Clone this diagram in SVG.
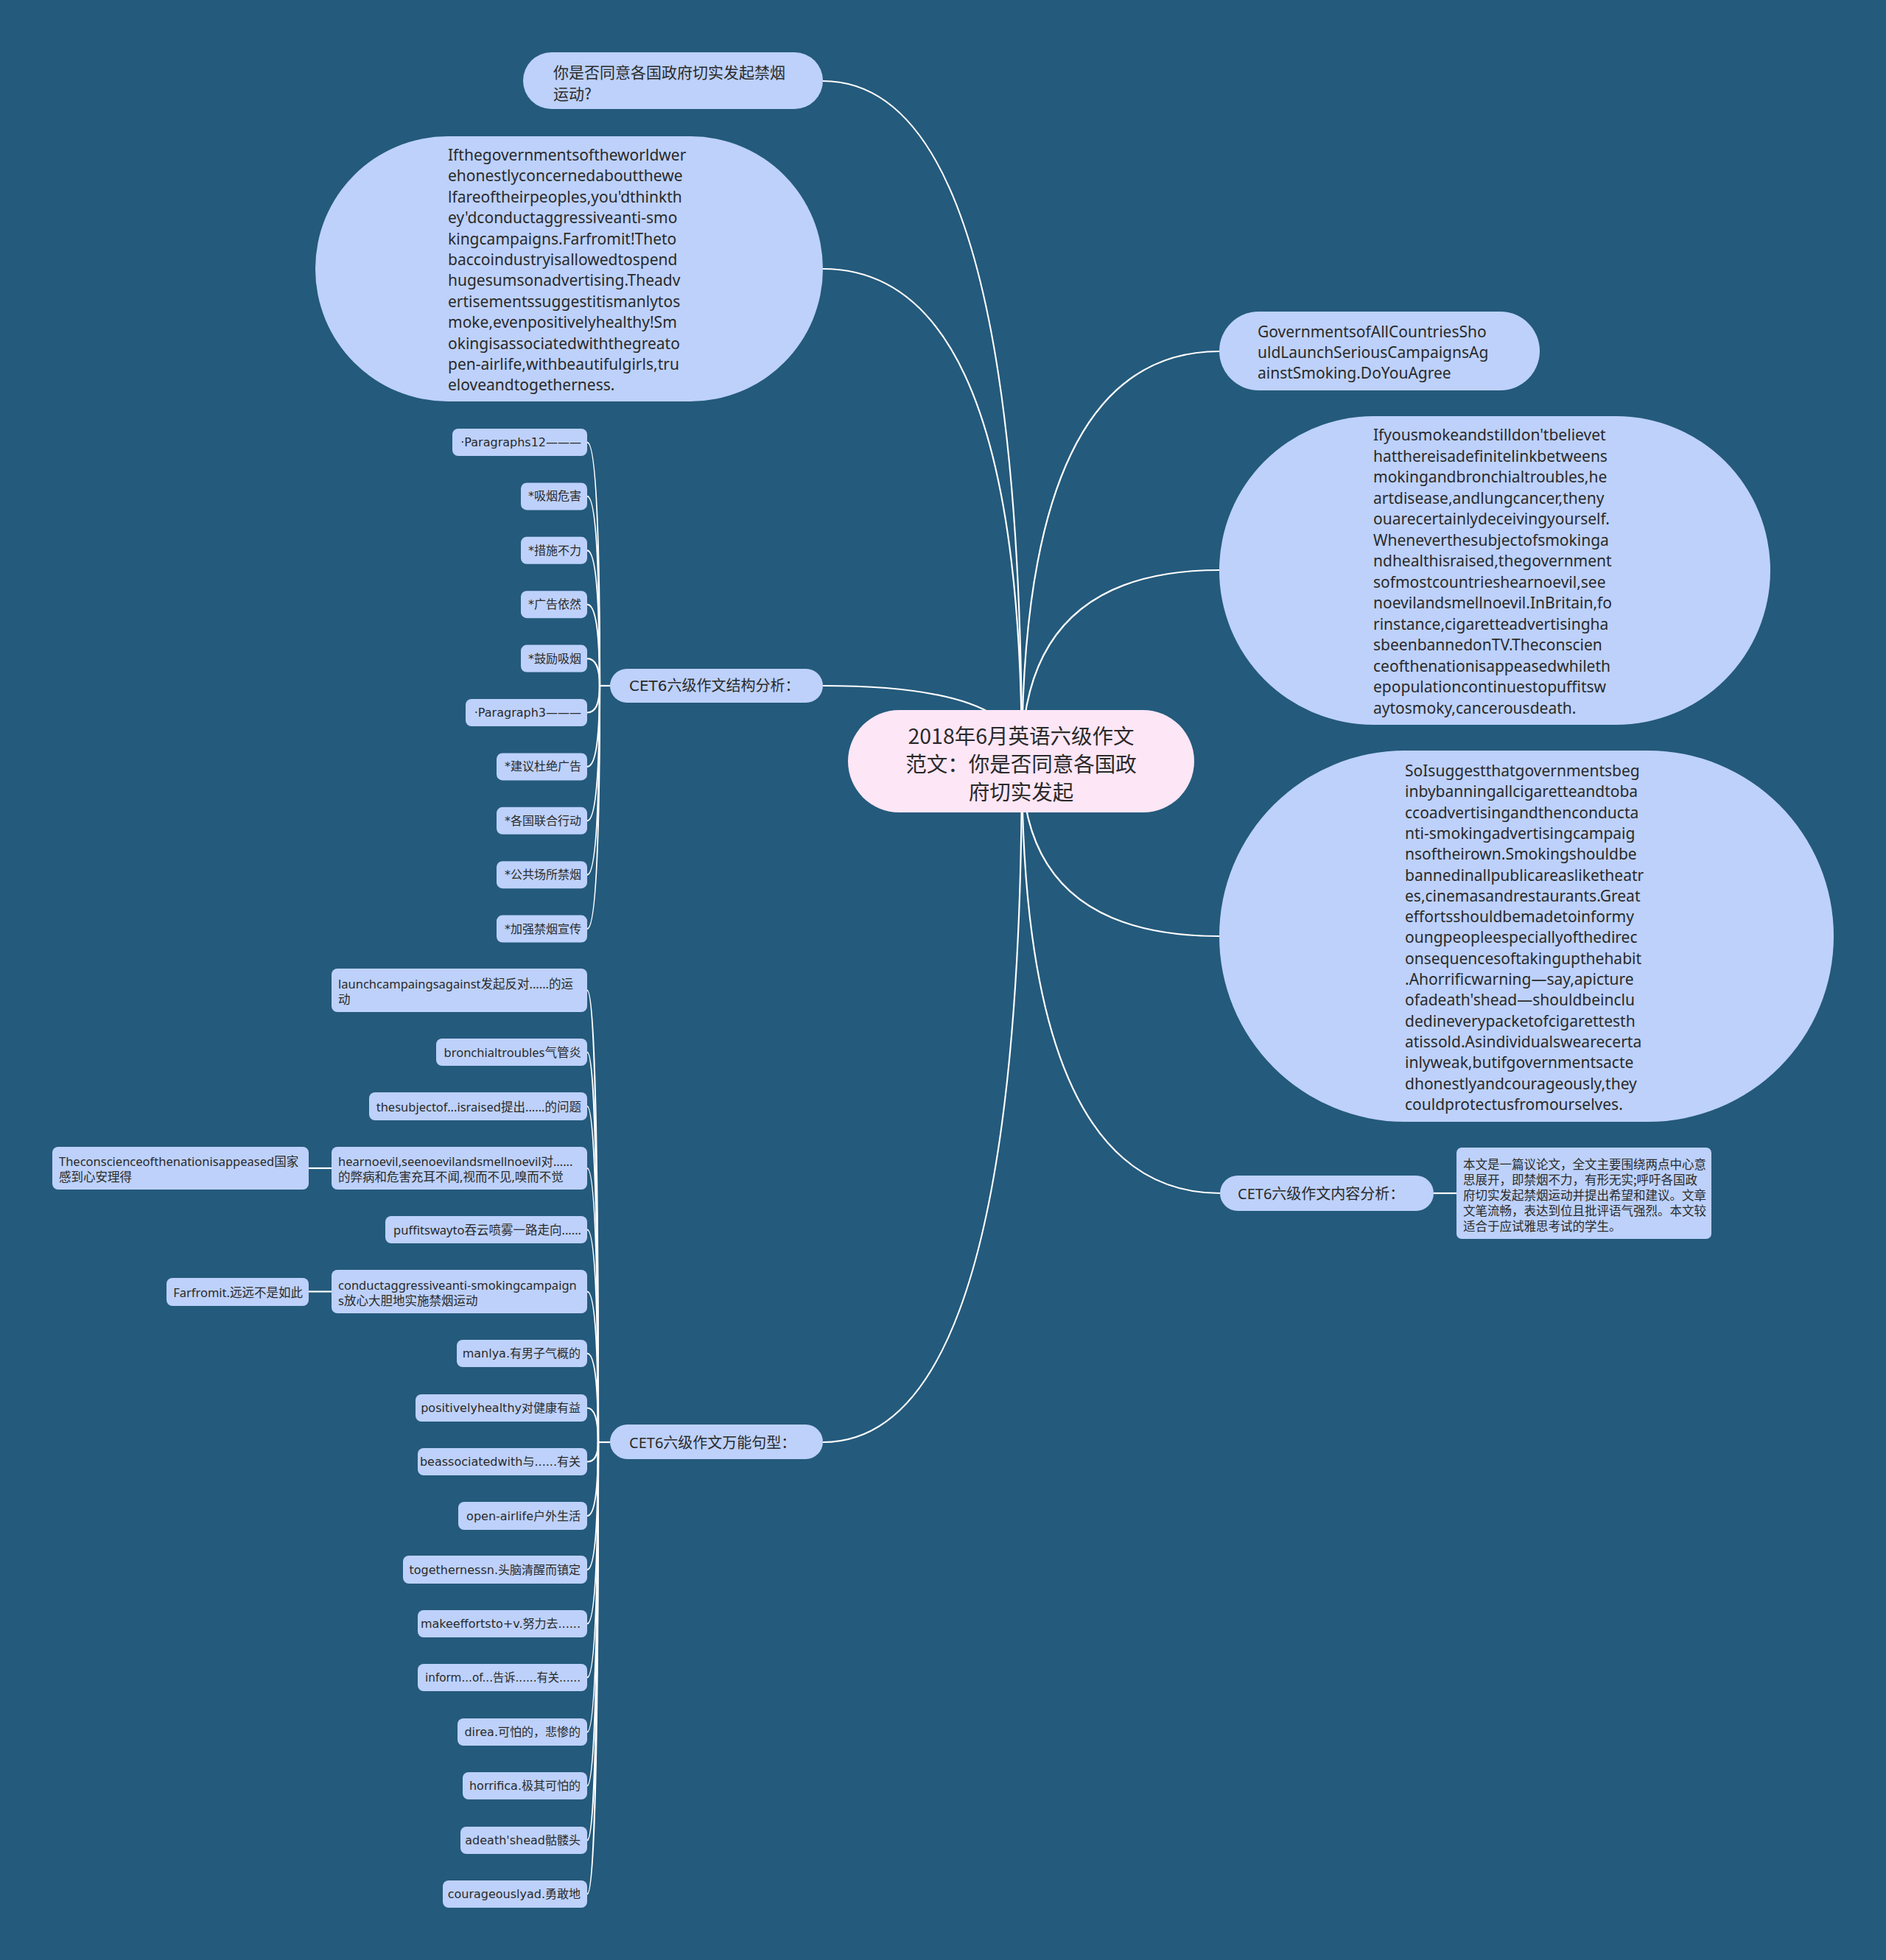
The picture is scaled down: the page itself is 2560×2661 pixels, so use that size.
<svg xmlns="http://www.w3.org/2000/svg" width="2560" height="2661" viewBox="0 0 2560 2661">
<style>
.bg{fill:#245a7c}
.n{fill:#bdd1fb}
.r{fill:#fde6f6}
.l{fill:none;stroke:#ffffff;stroke-width:2.2}
.t{font-family:"Noto Sans","Noto Sans CJK SC",sans-serif;fill:#2a2a2a;dominant-baseline:central}
.w{font-family:"DejaVu Sans","Noto Sans CJK SC",sans-serif;fill:#2a2a2a;dominant-baseline:central}
.c{font-family:"Noto Sans CJK SC",sans-serif;fill:#2a2a2a;dominant-baseline:central}
.f21{font-size:21px}
.f16{font-size:16px}
.f165{font-size:16.5px}
.f20{font-size:20px}
.e{text-anchor:end}
</style>
<rect class="bg" x="0" y="0" width="2560" height="2661"/>

<g id="connectors">
  <path class="l" d="M1117 110 Q1387 110 1387 1033"/>
  <path class="l" d="M1117 365 Q1387 365 1387 1033"/>
  <path class="l" d="M1117 931 Q1387 931 1387 1033"/>
  <path class="l" d="M1117 1958 Q1387 1958 1387 1033"/>
  <path class="l" d="M1655 477 Q1387 477 1387 1033"/>
  <path class="l" d="M1655 774 Q1387 774 1387 1033"/>
  <path class="l" d="M1655 1271 Q1387 1271 1387 1033"/>
  <path class="l" d="M1656 1620 Q1387 1620 1387 1033"/>
  <path class="l" d="M1946 1620 H1977"/>
  <path class="l" d="M828 931 H814"/>
  <path class="l" d="M797 600.5 Q814 600.5 814 931"/>
  <path class="l" d="M797 673.9 Q814 673.9 814 931"/>
  <path class="l" d="M797 747.3 Q814 747.3 814 931"/>
  <path class="l" d="M797 820.7 Q814 820.7 814 931"/>
  <path class="l" d="M797 894.1 Q814 894.1 814 931"/>
  <path class="l" d="M797 967.5 Q814 967.5 814 931"/>
  <path class="l" d="M797 1040.9 Q814 1040.9 814 931"/>
  <path class="l" d="M797 1114.3 Q814 1114.3 814 931"/>
  <path class="l" d="M797 1187.7 Q814 1187.7 814 931"/>
  <path class="l" d="M797 1261.1 Q814 1261.1 814 931"/>
  <path class="l" d="M828 1958 H812"/>
  <path class="l" d="M797 1344.5 Q812 1344.5 812 1958"/>
  <path class="l" d="M797 1428.5 Q812 1428.5 812 1958"/>
  <path class="l" d="M797 1502 Q812 1502 812 1958"/>
  <path class="l" d="M797 1586 Q812 1586 812 1958"/>
  <path class="l" d="M797 1669.5 Q812 1669.5 812 1958"/>
  <path class="l" d="M797 1753.5 Q812 1753.5 812 1958"/>
  <path class="l" d="M797 1837.5 Q812 1837.5 812 1958"/>
  <path class="l" d="M797 1911.5 Q812 1911.5 812 1958"/>
  <path class="l" d="M797 1984.5 Q812 1984.5 812 1958"/>
  <path class="l" d="M797 2058 Q812 2058 812 1958"/>
  <path class="l" d="M797 2131 Q812 2131 812 1958"/>
  <path class="l" d="M797 2204.5 Q812 2204.5 812 1958"/>
  <path class="l" d="M797 2277.5 Q812 2277.5 812 1958"/>
  <path class="l" d="M797 2351.5 Q812 2351.5 812 1958"/>
  <path class="l" d="M797 2424.5 Q812 2424.5 812 1958"/>
  <path class="l" d="M797 2498.5 Q812 2498.5 812 1958"/>
  <path class="l" d="M797 2571.5 Q812 2571.5 812 1958"/>
  <path class="l" d="M450 1586 H419"/>
  <path class="l" d="M450 1753.5 H419"/>
</g>

<g id="root">
  <rect class="r" x="1151" y="964" width="470" height="139" rx="69.5"/>
  <text class="c" font-size="28.5" text-anchor="middle"><tspan x="1386" y="997">2018年6月英语六级作文</tspan><tspan x="1386" y="1035">范文：你是否同意各国政</tspan><tspan x="1386" y="1073">府切实发起</tspan></text>
</g>

<g id="n-question">
  <rect class="n" x="710" y="71" width="407" height="77" rx="38.5"/>
  <text class="c f21"><tspan x="751" y="96.5">你是否同意各国政府切实发起禁烟</tspan><tspan x="751" y="125.5">运动?</tspan></text>
</g>

<g id="n-para1">
  <rect class="n" x="428" y="185" width="689" height="360" rx="180"/>
  <text class="t f21">
    <tspan x="608" y="210">Ifthegovernmentsoftheworldwer</tspan>
    <tspan x="608" y="238.4">ehonestlyconcernedaboutthewe</tspan>
    <tspan x="608" y="266.8">lfareoftheirpeoples,you'dthinkth</tspan>
    <tspan x="608" y="295.2">ey'dconductaggressiveanti-smo</tspan>
    <tspan x="608" y="323.6">kingcampaigns.Farfromit!Theto</tspan>
    <tspan x="608" y="352">baccoindustryisallowedtospend</tspan>
    <tspan x="608" y="380.4">hugesumsonadvertising.Theadv</tspan>
    <tspan x="608" y="408.8">ertisementssuggestitismanlytos</tspan>
    <tspan x="608" y="437.2">moke,evenpositivelyhealthy!Sm</tspan>
    <tspan x="608" y="465.6">okingisassociatedwiththegreato</tspan>
    <tspan x="608" y="494">pen-airlife,withbeautifulgirls,tru</tspan>
    <tspan x="608" y="522.4">eloveandtogetherness.</tspan>
  </text>
</g>

<g id="n-structure">
  <rect class="n" x="828" y="908" width="289" height="46" rx="23"/>
  <text class="w f20" x="854" y="931">CET6六级作文结构分析：</text>
</g>

<g id="s1"><rect class="n" x="614" y="582" width="183" height="37" rx="8"/><text class="w f16 e" x="789" y="600.5">·Paragraphs12———</text></g>
<g id="s2"><rect class="n" x="707" y="655.4" width="90" height="37" rx="8"/><text class="w f16 e" x="789" y="673.9">*吸烟危害</text></g>
<g id="s3"><rect class="n" x="707" y="728.8" width="90" height="37" rx="8"/><text class="w f16 e" x="789" y="747.3">*措施不力</text></g>
<g id="s4"><rect class="n" x="707" y="802.2" width="90" height="37" rx="8"/><text class="w f16 e" x="789" y="820.7">*广告依然</text></g>
<g id="s5"><rect class="n" x="707" y="875.6" width="90" height="37" rx="8"/><text class="w f16 e" x="789" y="894.1">*鼓励吸烟</text></g>
<g id="s6"><rect class="n" x="632" y="949" width="165" height="37" rx="8"/><text class="w f16 e" x="789" y="967.5">·Paragraph3———</text></g>
<g id="s7"><rect class="n" x="674" y="1022.4" width="123" height="37" rx="8"/><text class="w f16 e" x="789" y="1040.9">*建议杜绝广告</text></g>
<g id="s8"><rect class="n" x="674" y="1095.8" width="123" height="37" rx="8"/><text class="w f16 e" x="789" y="1114.3">*各国联合行动</text></g>
<g id="s9"><rect class="n" x="674" y="1169.2" width="123" height="37" rx="8"/><text class="w f16 e" x="789" y="1187.7">*公共场所禁烟</text></g>
<g id="s10"><rect class="n" x="674" y="1242.6" width="123" height="37" rx="8"/><text class="w f16 e" x="789" y="1261.1">*加强禁烟宣传</text></g>

<g id="n-sentences">
  <rect class="n" x="828" y="1934" width="289" height="47" rx="23.5"/>
  <text class="t f20" x="854" y="1958">CET6六级作文万能句型：</text>
</g>

<g id="v1"><rect class="n" x="450" y="1315" width="347" height="59" rx="8"/><text class="t f165"><tspan x="459" y="1335">launchcampaingsagainst发起反对......的运</tspan><tspan x="459" y="1356">动</tspan></text></g>
<g id="v2"><rect class="n" x="592" y="1410" width="205" height="37" rx="8"/><text class="t f165 e" x="789" y="1428.5">bronchialtroubles气管炎</text></g>
<g id="v3"><rect class="n" x="501" y="1483" width="296" height="38" rx="8"/><text class="t f165 e" x="789" y="1502">thesubjectof...israised提出......的问题</text></g>
<g id="v4"><rect class="n" x="450" y="1557" width="347" height="58" rx="8"/><text class="t f165"><tspan x="459" y="1576">hearnoevil,seenoevilandsmellnoevil对......</tspan><tspan x="459" y="1597">的弊病和危害充耳不闻,视而不见,嗅而不觉</tspan></text></g>
<g id="v4a"><rect class="n" x="71" y="1557" width="348" height="58" rx="8"/><text class="t f165"><tspan x="80" y="1576">Theconscienceofthenationisappeased国家</tspan><tspan x="80" y="1597">感到心安理得</tspan></text></g>
<g id="v5"><rect class="n" x="523" y="1651" width="274" height="37" rx="8"/><text class="t f165 e" x="789" y="1669.5">puffitswayto吞云喷雾一路走向......</text></g>
<g id="v6"><rect class="n" x="450" y="1724" width="347" height="59" rx="8"/><text class="t f165"><tspan x="459" y="1744">conductaggressiveanti-smokingcampaign</tspan><tspan x="459" y="1765">s放心大胆地实施禁烟运动</tspan></text></g>
<g id="v6a"><rect class="n" x="226" y="1735" width="193" height="38" rx="8"/><text class="t f165 e" x="411" y="1754">Farfromit.远远不是如此</text></g>
<g id="v7"><rect class="n" x="620" y="1819" width="177" height="37" rx="8"/><text class="w f16 e" x="788" y="1837.5">manlya.有男子气概的</text></g>
<g id="v8"><rect class="n" x="564" y="1893" width="233" height="37" rx="8"/><text class="w f16 e" x="788" y="1911.5">positivelyhealthy对健康有益</text></g>
<g id="v9"><rect class="n" x="567" y="1966" width="230" height="37" rx="8"/><text class="w f16 e" x="788" y="1984.5">beassociatedwith与......有关</text></g>
<g id="v10"><rect class="n" x="622" y="2039" width="175" height="38" rx="8"/><text class="w f16 e" x="788" y="2058">open-airlife户外生活</text></g>
<g id="v11"><rect class="n" x="547" y="2112" width="250" height="38" rx="8"/><text class="w f16 e" x="788" y="2131">togethernessn.头脑清醒而镇定</text></g>
<g id="v12"><rect class="n" x="567" y="2186" width="230" height="37" rx="8"/><text class="w f16 e" x="788" y="2204.5">makeeffortsto+v.努力去......</text></g>
<g id="v13"><rect class="n" x="567" y="2259" width="230" height="37" rx="8"/><text class="w f16 e" x="788" y="2277.5" textLength="211" lengthAdjust="spacingAndGlyphs">inform...of...告诉......有关......</text></g>
<g id="v14"><rect class="n" x="621" y="2333" width="176" height="37" rx="8"/><text class="w f16 e" x="788" y="2351.5">direa.可怕的，悲惨的</text></g>
<g id="v15"><rect class="n" x="628" y="2406" width="169" height="37" rx="8"/><text class="w f16 e" x="788" y="2424.5">horrifica.极其可怕的</text></g>
<g id="v16"><rect class="n" x="625" y="2480" width="172" height="37" rx="8"/><text class="w f16 e" x="788" y="2498.5">adeath'shead骷髅头</text></g>
<g id="v17"><rect class="n" x="601" y="2553" width="196" height="37" rx="8"/><text class="w f16 e" x="788" y="2571.5">courageouslyad.勇敢地</text></g>

<g id="n-title">
  <rect class="n" x="1655" y="423" width="435" height="107" rx="53.5"/>
  <text class="t f21"><tspan x="1707" y="449.5">GovernmentsofAllCountriesSho</tspan><tspan x="1707" y="477.8">uldLaunchSeriousCampaignsAg</tspan><tspan x="1707" y="506.1">ainstSmoking.DoYouAgree</tspan></text>
</g>

<g id="n-para2">
  <rect class="n" x="1655" y="565" width="748" height="419" rx="209.5"/>
  <text class="t f21">
    <tspan x="1864" y="590">Ifyousmokeandstilldon'tbelievet</tspan>
    <tspan x="1864" y="618.5">hatthereisadefinitelinkbetweens</tspan>
    <tspan x="1864" y="647">mokingandbronchialtroubles,he</tspan>
    <tspan x="1864" y="675.5">artdisease,andlungcancer,theny</tspan>
    <tspan x="1864" y="704">ouarecertainlydeceivingyourself.</tspan>
    <tspan x="1864" y="732.5">Wheneverthesubjectofsmokinga</tspan>
    <tspan x="1864" y="761">ndhealthisraised,thegovernment</tspan>
    <tspan x="1864" y="789.5">sofmostcountrieshearnoevil,see</tspan>
    <tspan x="1864" y="818">noevilandsmellnoevil.InBritain,fo</tspan>
    <tspan x="1864" y="846.5">rinstance,cigaretteadvertisingha</tspan>
    <tspan x="1864" y="875">sbeenbannedonTV.Theconscien</tspan>
    <tspan x="1864" y="903.5">ceofthenationisappeasedwhileth</tspan>
    <tspan x="1864" y="932">epopulationcontinuestopuffitsw</tspan>
    <tspan x="1864" y="960.5">aytosmoky,cancerousdeath.</tspan>
  </text>
</g>

<g id="n-para3">
  <rect class="n" x="1655" y="1019" width="834" height="504" rx="252"/>
  <text class="t f21">
    <tspan x="1907" y="1046">SoIsuggestthatgovernmentsbeg</tspan>
    <tspan x="1907" y="1074.3">inbybanningallcigaretteandtoba</tspan>
    <tspan x="1907" y="1102.6">ccoadvertisingandthenconducta</tspan>
    <tspan x="1907" y="1130.9">nti-smokingadvertisingcampaig</tspan>
    <tspan x="1907" y="1159.2">nsoftheirown.Smokingshouldbe</tspan>
    <tspan x="1907" y="1187.5">bannedinallpublicareasliketheatr</tspan>
    <tspan x="1907" y="1215.8">es,cinemasandrestaurants.Great</tspan>
    <tspan x="1907" y="1244.1">effortsshouldbemadetoinformy</tspan>
    <tspan x="1907" y="1272.4">oungpeopleespeciallyofthedirec</tspan>
    <tspan x="1907" y="1300.7">onsequencesoftakingupthehabit</tspan>
    <tspan x="1907" y="1329">.Ahorrificwarning—say,apicture</tspan>
    <tspan x="1907" y="1357.3">ofadeath'shead—shouldbeinclu</tspan>
    <tspan x="1907" y="1385.6">dedineverypacketofcigarettesth</tspan>
    <tspan x="1907" y="1413.9">atissold.Asindividualswearecerta</tspan>
    <tspan x="1907" y="1442.2">inlyweak,butifgovernmentsacte</tspan>
    <tspan x="1907" y="1470.5">dhonestlyandcourageously,they</tspan>
    <tspan x="1907" y="1498.8">couldprotectusfromourselves.</tspan>
  </text>
</g>

<g id="n-content">
  <rect class="n" x="1656" y="1596" width="290" height="48" rx="24"/>
  <text class="t f20" x="1680" y="1620">CET6六级作文内容分析：</text>
</g>

<g id="n-content-text">
  <rect class="n" x="1977" y="1558" width="346" height="124" rx="7"/>
  <text class="c f165"><tspan x="1986" y="1580">本文是一篇议论文，全文主要围绕两点中心意</tspan><tspan x="1986" y="1601">思展开，即禁烟不力，有形无实;呼吁各国政</tspan><tspan x="1986" y="1622">府切实发起禁烟运动并提出希望和建议。文章</tspan><tspan x="1986" y="1643">文笔流畅，表达到位且批评语气强烈。本文较</tspan><tspan x="1986" y="1664">适合于应试雅思考试的学生。</tspan></text>
</g>
</svg>
